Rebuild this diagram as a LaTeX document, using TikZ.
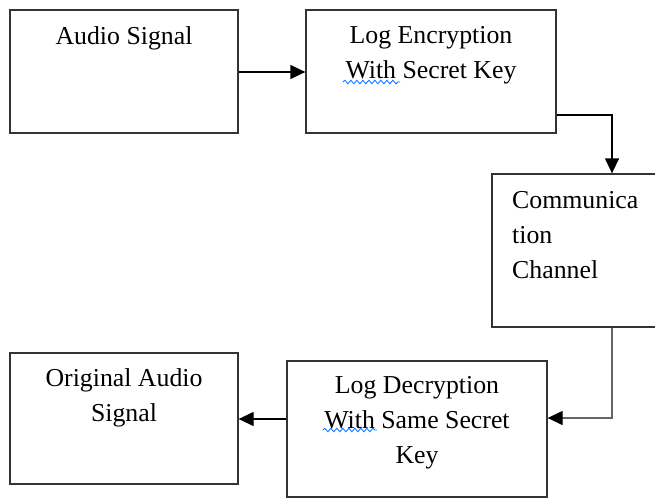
\documentclass[tikz,border=0pt]{standalone}
\usepackage{fontspec}
\setmainfont{Liberation Serif}
\usetikzlibrary{arrows.meta,decorations.pathmorphing}
\begin{document}
\begin{tikzpicture}[x=1pt,y=-1pt,
  box/.style={draw=black!80,line width=1.3pt,rectangle,inner sep=0pt},
  txt/.style={inner sep=0pt,font=\fontsize{25.8}{35}\selectfont,text=black},
  arr/.style={draw=black,line width=1.3pt,-{Triangle[length=15pt,width=14pt,color=black]}},
  wavy/.style={draw=blue!55!cyan,line width=0.8pt,decorate,decoration={snake,amplitude=1.8pt,segment length=6pt}}]
\useasboundingbox (0,0) rectangle (655,498);
\clip (0,0) rectangle (655,498);
% boxes
\node[box,minimum width=228pt,minimum height=123pt] (b1) at (124,71.5) {};
\node[box,minimum width=250pt,minimum height=123pt] (b2) at (431,71.5) {};
\node[box,minimum width=165pt,minimum height=153pt] (b3) at (574.5,250.5) {};
\node[box,minimum width=260pt,minimum height=136pt] (b4) at (417,429) {};
\node[box,minimum width=228pt,minimum height=131pt] (b5) at (124,418.5) {};
% texts
\node[txt,anchor=north,align=center] (t1) at (124,20) {\strut Audio Signal};
\node[txt,anchor=north,align=center] (t2) at (431,19) {\strut Log Encryption\\With Secret Key};
\node[txt,anchor=north west,align=left] (t3) at (512,183.5) {\strut Communica\\tion\\Channel};
\node[txt,anchor=north,align=center] (t4) at (417,368.5) {\strut Log Decryption\\With Same Secret\\Key};
\node[txt,anchor=north,align=center] (t5) at (124,362) {\strut Original Audio\\Signal};
% spell-check underlines
\coordinate (w1a) at (343,82);
\coordinate (w1b) at (400,82);
\coordinate (w2a) at (323,430);
\coordinate (w2b) at (377,430);
\draw[wavy] (w1a) -- (w1b);
\draw[wavy] (w2a) -- (w2b);
% connectors
\coordinate (c2) at (612,115);
\coordinate (c3) at (612,174);
\coordinate (c4) at (612,327);
\coordinate (c5) at (612,418);
\draw[arr] (b1.east |- 0,72) -- (b2.west |- 0,72);
\draw[arr] (b2.east |- c2) -- (c2) -- (b3.north -| c3);
\draw[arr,draw=black!60] (b3.south -| c4) -- (c5) -- (b4.east |- c5);
\draw[arr] (b4.west |- 0,419) -- (b5.east |- 0,419);
\end{tikzpicture}
\end{document}
